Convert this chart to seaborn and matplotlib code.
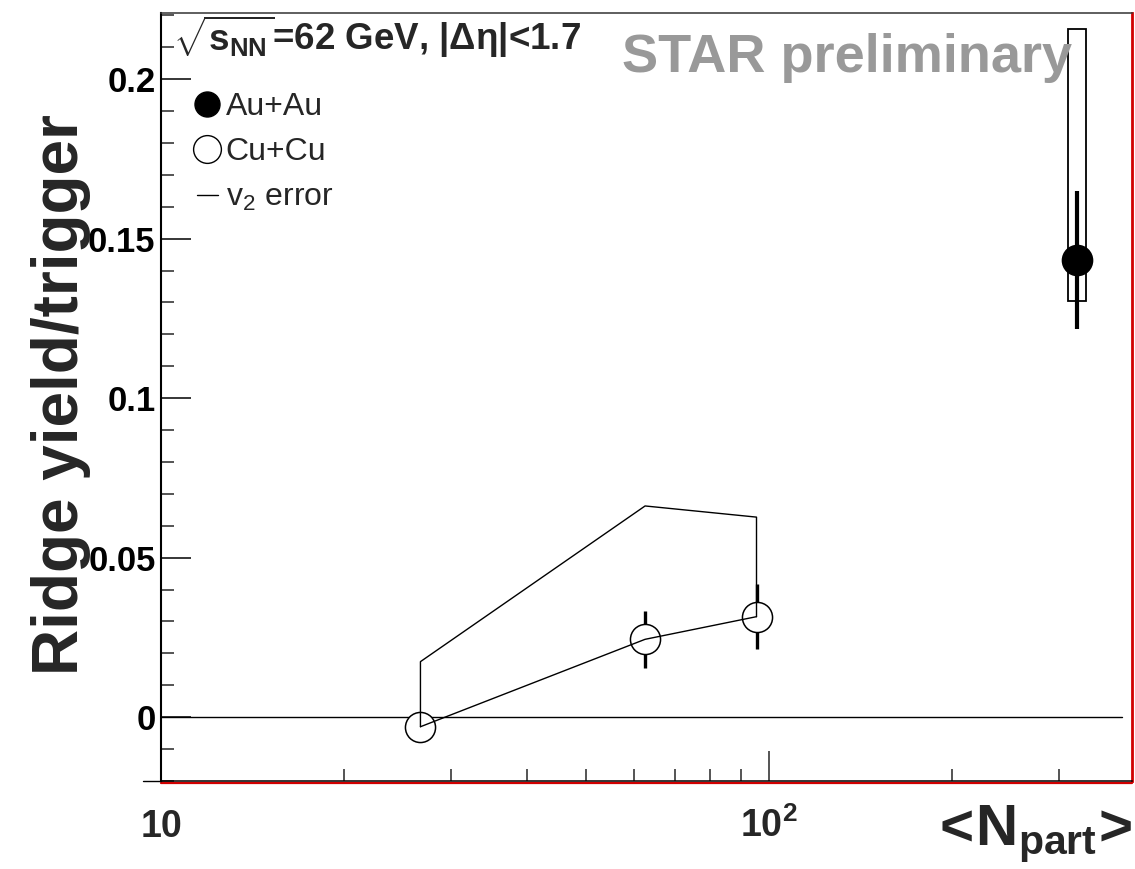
import numpy as np
import matplotlib.pyplot as plt
import seaborn as sns
from matplotlib import font_manager
from matplotlib.patches import Rectangle
from matplotlib.lines import Line2D
from matplotlib.ticker import LogLocator, NullFormatter, MultipleLocator

# Data
au_npart = [320.7]
au_yield = [0.1434]
au_err = [0.0216]
au_sys_lo = [0.1305]
au_sys_hi = [0.2157]

cu_npart = [26.7, 62.5, 95.3]
cu_yield = [-0.0030, 0.0244, 0.0315]
cu_err = [0.004, 0.009, 0.0102]
cu_v2_hi = [0.0174, 0.0662, 0.0627]

y_ticks = [0, 0.05, 0.1, 0.15, 0.2]
y_tick_labels = ['0', '0.05', '0.1', '0.15', '0.2']
x_ticks = [10, 100]
x_tick_labels = ['10', r'$\mathbf{10^{2}}$']

# Style
sns.set_style('ticks')
names = {f.name for f in font_manager.fontManager.ttflist}
narrow = 'Liberation Sans Narrow' if 'Liberation Sans Narrow' in names else 'Liberation Sans'
plt.rcParams['font.family'] = ['Liberation Sans', 'DejaVu Sans']
plt.rcParams['mathtext.fontset'] = 'custom'
plt.rcParams['mathtext.rm'] = 'Liberation Sans'
plt.rcParams['mathtext.sf'] = 'Liberation Sans:bold'
plt.rcParams['mathtext.bf'] = narrow + ':bold'

fig = plt.figure(figsize=(11.35, 8.69), dpi=100)
ax = fig.add_axes([0.1419, 0.1013, 0.8555, 0.8837])
ax.set_xscale('log')
ax.set_xlim(10, 395)
ax.set_ylim(-0.02, 0.2207)

# zero line
ax.axhline(0, color='black', lw=1, xmax=0.99, zorder=1)

# Au+Au systematic box
box_w = 1.033
for n, lo, hi in zip(au_npart, au_sys_lo, au_sys_hi):
    ax.add_patch(Rectangle((n / box_w, lo), n * box_w - n / box_w, hi - lo,
                           fill=False, ec='black', lw=1.3, zorder=2))

# statistical errors
ax.errorbar(au_npart, au_yield, yerr=au_err, fmt='none', ecolor='black',
            elinewidth=3, capsize=0, zorder=3)
ax.errorbar(cu_npart, cu_yield, yerr=cu_err, fmt='none', ecolor='black',
            elinewidth=2.4, capsize=0, zorder=3)

# markers
sns.scatterplot(x=au_npart, y=au_yield, ax=ax, marker='o', s=470,
                color='black', edgecolor='black', linewidth=1.1, zorder=4)
sns.scatterplot(x=cu_npart, y=cu_yield, ax=ax, marker='o', s=470,
                facecolor='white', edgecolor='black', linewidth=1.1, zorder=4)

# Cu+Cu connecting line and v2 error envelope
sns.lineplot(x=cu_npart, y=cu_yield, ax=ax, color='black', lw=1,
             estimator=None, sort=False, zorder=5)
v2_x = [cu_npart[0]] + cu_npart + [cu_npart[-1]]
v2_y = [cu_yield[0]] + cu_v2_hi + [cu_yield[-1]]
ax.plot(v2_x, v2_y, color='black', lw=1, zorder=5)

# Axes ticks
ax.set_yticks(y_ticks, labels=y_tick_labels, fontweight='bold', fontsize=25)
ax.yaxis.set_minor_locator(MultipleLocator(0.01))
ax.set_xticks(x_ticks, labels=x_tick_labels, fontfamily=narrow,
              fontweight='bold', fontsize=27, va='baseline')
ax.xaxis.set_minor_locator(LogLocator(base=10, subs=np.arange(2, 10)))
ax.xaxis.set_minor_formatter(NullFormatter())
ax.tick_params(axis='y', which='major', direction='in', length=21.6, width=1.1,
               pad=4, right=False, colors='black')
ax.tick_params(axis='y', which='minor', direction='in', length=9.4, width=1.1,
               right=False)
ax.tick_params(axis='x', which='major', direction='in', length=21.6, width=1.1,
               pad=40, top=False)
ax.tick_params(axis='x', which='minor', direction='in', length=9, width=1.1,
               top=False)

# Frame
ax.spines['left'].set_linewidth(1.5)
ax.spines['left'].set_color('black')
ax.spines['top'].set_linewidth(1.1)
ax.spines['top'].set_color('#333333')
ax.spines['right'].set_linewidth(2)
ax.spines['right'].set_color('#d00000')
ax.spines['bottom'].set_linewidth(1.1)
ax.spines['bottom'].set_color('black')
ax.plot([0, 1], [-0.003, -0.003], transform=ax.transAxes, color='#d00000',
        lw=1.6, clip_on=False)
ax.plot([-0.019, 0], [0, 0], transform=ax.transAxes, color='black',
        lw=1, clip_on=False)

# Labels
ax.set_ylabel('Ridge yield/trigger', fontsize=46, fontweight='bold')
ax.yaxis.set_label_coords(-0.072, 0.503)
ax.set_xlabel('')
ax.text(1.0, -0.083, r'$\mathbf{<\!N_{part}\!>}$', transform=ax.transAxes,
        ha='right', va='baseline', fontsize=42)

ax.text(0.4748, 0.923, 'STAR preliminary', transform=ax.transAxes,
        color='#999999', fontsize=39, fontweight='bold', ha='left', va='baseline')
ax.text(0.012, 0.952, r'$\sqrt{\mathsf{s}_{\mathsf{NN}}}$=62 GeV, |Δη|<1.7',
        transform=ax.transAxes, fontsize=26.5, fontweight='bold',
        ha='left', va='baseline')

# Legend
handles = [
    Line2D([], [], marker='o', ls='none', color='black', markersize=18),
    Line2D([], [], marker='o', ls='none', markerfacecolor='white',
           markeredgecolor='black', markeredgewidth=1, markersize=20),
    Line2D([], [], color='black', lw=1),
]
labels = ['Au+Au', 'Cu+Cu', r'v$_{\mathrm{2}}$ error']
ax.legend(handles, labels, loc='upper left', bbox_to_anchor=(0.037, 0.897),
          frameon=False, borderpad=0, borderaxespad=0, handlelength=0.65,
          handletextpad=0.25, labelspacing=0.48, fontsize=23)

fig.savefig('out.png', dpi=100)
